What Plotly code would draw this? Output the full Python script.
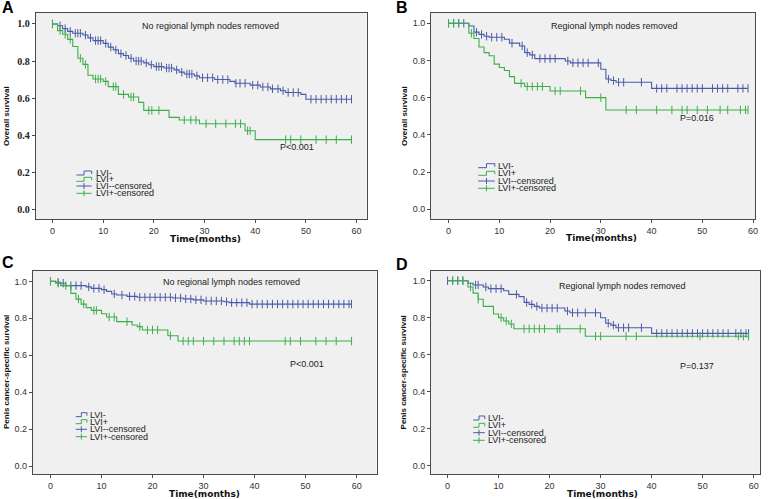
import plotly.graph_objects as go

W, H = 778, 499
BLUE = '#4A5BA8'
GREEN = '#3DAE4B'
SANS = 'Liberation Sans, Arial, sans-serif'

# ---------------- data ----------------
# Panel A: overall survival, no regional lymph nodes removed
a_neg_t = [0, 1, 2, 3, 4, 6, 7, 8, 10, 11, 12, 13, 14, 15, 16, 18, 19, 20, 22, 24, 25, 26, 28, 29, 32, 35, 36, 39, 41, 43, 45, 46, 49, 50]
a_neg_s = [1.0, 0.99, 0.975, 0.96, 0.95, 0.94, 0.925, 0.91, 0.895, 0.875, 0.86, 0.84, 0.83, 0.815, 0.80, 0.79, 0.78, 0.77, 0.762, 0.752, 0.74, 0.73, 0.72, 0.71, 0.70, 0.69, 0.68, 0.67, 0.66, 0.65, 0.64, 0.63, 0.62, 0.594]
a_neg_c = [0, 1.5, 2.5, 3.5, 4.5, 5, 5.5, 6.5, 7.5, 8.5, 9, 9.5, 10.5, 11.5, 12.5, 13.5, 14.5, 15.5, 16.5, 17, 17.5, 18.5, 19.5, 20.5, 21, 21.5, 22.5, 23, 23.5, 24.5, 25.5, 26.5, 27, 27.5, 28.5, 29.6, 30.6, 31.6, 32.6, 33.6, 34.6, 36.2, 37, 38, 39.5, 40.5, 41.5, 42.5, 43.4, 44.5, 45.5, 46.5, 47.5, 48.5, 51, 52, 53, 54, 55, 56, 57, 58, 59]
a_pos_t = [0, 1, 2, 3, 4, 5, 6, 7, 8, 10, 11, 13, 15, 17, 18, 23, 25, 29, 38, 40]
a_pos_s = [1.0, 0.964, 0.944, 0.917, 0.878, 0.815, 0.782, 0.723, 0.703, 0.69, 0.662, 0.62, 0.606, 0.577, 0.534, 0.496, 0.482, 0.462, 0.424, 0.376]
a_pos_c = [0, 1.5, 2.5, 3.5, 5.5, 6.5, 8.5, 9, 9.5, 10.5, 12, 12.5, 14, 15.5, 16, 19, 19.6, 21, 26, 27.3, 28.3, 30.3, 32.2, 34.2, 36.1, 37.1, 38.5, 39, 46, 47, 49, 52, 54, 56, 59]

# Panel B: overall survival, regional lymph nodes removed
b_neg_t = [0, 4, 5, 6, 7, 8, 11, 12, 14, 15, 16, 17, 23, 24, 30, 31, 32, 33, 40]
b_neg_s = [1.0, 0.985, 0.952, 0.94, 0.93, 0.925, 0.914, 0.893, 0.878, 0.842, 0.83, 0.81, 0.797, 0.787, 0.753, 0.70, 0.692, 0.683, 0.65]
b_neg_c = [0, 1, 2, 3, 5.5, 6.5, 7.5, 8.5, 9.5, 10.5, 12.5, 14.5, 15.5, 16.5, 18, 19, 20, 21, 23.5, 24.5, 25.5, 26.5, 27.5, 29.5, 31.5, 32.5, 33.5, 34.5, 38, 41, 42, 43, 45, 46, 47, 48, 49, 50, 52, 53, 54, 55, 57, 58, 59]
b_pos_t = [0, 4, 5, 6, 7, 8, 9, 10, 11, 12, 13, 15, 20, 27, 31]
b_pos_s = [1.0, 0.946, 0.918, 0.872, 0.842, 0.825, 0.78, 0.762, 0.746, 0.713, 0.677, 0.66, 0.636, 0.60, 0.534]
b_pos_c = [0, 1, 2, 4.5, 14.3, 15.5, 16.5, 17.5, 18.5, 21, 22, 26, 30, 35, 37, 41, 44, 46, 47, 49, 51, 53.5, 55, 57.5, 58.5, 59]

# Panel C: penis cancer-specific survival, no regional lymph nodes removed
c_neg_t = [0, 1, 2, 3, 7, 8, 10, 11, 12, 13, 15, 17, 24, 26, 28, 30, 34, 35, 39]
c_neg_s = [1.0, 0.995, 0.99, 0.977, 0.97, 0.962, 0.955, 0.946, 0.932, 0.926, 0.919, 0.914, 0.91, 0.905, 0.90, 0.894, 0.89, 0.885, 0.877]
c_neg_c = [0, 1.5, 2.5, 4, 5, 6, 7.5, 8.5, 9.5, 10.5, 12.5, 14, 15.5, 16.5, 17.5, 18.5, 19.5, 20.5, 21.5, 22.5, 23.5, 24.5, 25.5, 26.5, 27.5, 28.5, 29.5, 30.5, 31.5, 32.5, 33.5, 34.5, 35.5, 36.5, 37.5, 38.5, 39.5, 40.5, 41.5, 42.5, 43.5, 44.5, 45.5, 46.5, 47.5, 48.5, 49.5, 50.5, 51.5, 52.5, 53.5, 54.5, 55.5, 56.5, 57.5, 58.5, 59]
c_pos_t = [0, 1, 2, 4, 5, 6, 7, 8, 10, 11, 13, 16, 17, 18, 23, 25]
c_pos_s = [1.0, 0.99, 0.977, 0.935, 0.904, 0.877, 0.858, 0.843, 0.825, 0.807, 0.782, 0.764, 0.755, 0.737, 0.706, 0.677]
c_pos_c = [0, 1.5, 3, 5.5, 6.5, 8.5, 9, 11.5, 12.5, 15, 17.5, 19, 20, 21, 23.5, 26, 27, 28, 30, 32, 34, 36, 37, 38, 39, 46, 47, 49, 52, 54, 56, 59]

# Panel D: penis cancer-specific survival, regional lymph nodes removed
d_neg_t = [0, 4, 5, 7, 8, 11, 12, 14, 15, 16, 17, 18, 23, 24, 30, 31, 32, 33, 40]
d_neg_s = [1.0, 0.986, 0.977, 0.966, 0.957, 0.946, 0.926, 0.914, 0.883, 0.872, 0.861, 0.852, 0.836, 0.827, 0.80, 0.77, 0.76, 0.746, 0.715]
d_neg_c = [0, 1, 2, 3, 5.5, 6, 7.5, 8.5, 9.5, 10.5, 13.5, 15.5, 16.5, 17.5, 18.5, 19.5, 20.5, 21.5, 23.5, 24.5, 25.5, 27, 29, 31.5, 32.5, 33.5, 34.5, 35.5, 38, 41, 42, 43, 44, 45, 46, 47, 48, 49, 50, 51, 52, 53, 54, 55, 56.5, 57.5, 58.5, 59]
d_pos_t = [0, 4, 5, 6, 7, 9, 10, 11, 12, 13, 27]
d_pos_s = [1.0, 0.966, 0.933, 0.90, 0.861, 0.82, 0.80, 0.782, 0.766, 0.74, 0.70]
d_pos_c = [1, 2, 3, 4.5, 6, 10.5, 11.5, 12.5, 15, 16, 17, 18, 19, 21.5, 22, 26, 29, 30, 35, 37, 49.5, 57, 58, 59]

subtitles = ['No regional lymph nodes removed', 'Regional lymph nodes removed',
             'No regional lymph nodes removed', 'Regional lymph nodes removed']
pvalues = ['P<0.001', 'P=0.016', 'P<0.001', 'P=0.137']
ytitles = ['Overall survival', 'Overall survival',
           'Penis cancer-specific survival', 'Penis cancer-specific survival']
letters = ['A', 'B', 'C', 'D']
legend_labels = ['LVI-', 'LVI+', 'LVI--censored', 'LVI+-censored']
y_ticks = [0.0, 0.2, 0.4, 0.6, 0.8, 1.0]
x_ticks = [0, 10, 20, 30, 40, 50, 60]

# ---------------- layout geometry (pixels) ----------------
panels = [
    dict(data=(a_neg_t, a_neg_s, a_neg_c, a_pos_t, a_pos_s, a_pos_c),
         frame=(36, 368, 13, 219), xr=[-3.28, 61.97], yr=[-0.052, 1.059],
         sub=(31.1, 0.99), p=(48.2, 0.336), ytitle=(6, 116), xtitle=(206, 238.7),
         letter=(0.5, -3.5), leg=(76.7, 92.0, 94.3, [173, 179.3, 186, 193.3])),
    dict(data=(b_neg_t, b_neg_s, b_neg_c, b_pos_t, b_pos_s, b_pos_c),
         frame=(432.7, 758.3, 13, 219), xr=[-3.45, 60.45], yr=[-0.052, 1.055],
         sub=(32.7, 0.985), p=(48.9, 0.489), ytitle=(405.5, 116), xtitle=(604, 238.3),
         letter=(396, -2.5), leg=(480, 496.7, 497.7, [165.7, 173.3, 181, 188.3])),
    dict(data=(c_neg_t, c_neg_s, c_neg_c, c_pos_t, c_pos_s, c_pos_c),
         frame=(33, 378, 271, 474), xr=[-3.45, 63.9], yr=[-0.042, 1.056],
         sub=(35.4, 0.995), p=(50.2, 0.553), ytitle=(6, 372), xtitle=(205, 494),
         letter=(0.5, 251.5), leg=(76, 87.3, 88.3, [414.7, 421.7, 429.3, 436.7])),
    dict(data=(d_neg_t, d_neg_s, d_neg_c, d_pos_t, d_pos_s, d_pos_c),
         frame=(432.7, 762.7, 270.7, 474), xr=[-3.24, 61.2], yr=[-0.045, 1.054],
         sub=(34.3, 0.97), p=(48.9, 0.537), ytitle=(405, 372), xtitle=(604.5, 494),
         letter=(395.5, 253.5), leg=(475, 486.7, 487.7, [418, 425.3, 432.7, 440.3])),
]


def px(x):
    return x / W


def py(y):
    return 1 - y / H


def surv_at(times, surv, t):
    val = surv[0]
    for ti, si in zip(times, surv):
        if ti <= t:
            val = si
    return val


fig = go.Figure()
annotations = []
shapes = []

for i, P in enumerate(panels):
    n = '' if i == 0 else str(i + 1)
    xa, ya = 'x' + n, 'y' + n
    neg_t, neg_s, neg_c, pos_t, pos_s, pos_c = P['data']
    for times, surv, cens, col in ((neg_t, neg_s, neg_c, BLUE), (pos_t, pos_s, pos_c, GREEN)):
        end = max(cens[-1], times[-1])
        fig.add_trace(go.Scatter(
            x=list(times) + [end], y=list(surv) + [surv[-1]], mode='lines',
            line=dict(color=col, width=1.1, shape='hv'), xaxis=xa, yaxis=ya,
            showlegend=False, hoverinfo='skip'))
        fig.add_trace(go.Scatter(
            x=cens, y=[surv_at(times, surv, t) for t in cens], mode='markers',
            marker=dict(symbol='line-ns', size=6, color=col, line=dict(width=1, color=col)),
            xaxis=xa, yaxis=ya, showlegend=False, hoverinfo='skip'))

    x0, x1, y0, y1 = P['frame']
    common = dict(showline=True, linecolor='#4a4a4a', linewidth=1, mirror=True,
                  ticks='outside', ticklen=3, tickcolor='#4a4a4a', showgrid=False,
                  zeroline=False)
    fig.layout['xaxis' + n] = dict(
        domain=[px(x0), px(x1)], range=P['xr'], anchor=ya, tickvals=x_ticks,
        tickfont=dict(family=SANS, size=9, color='#333'), **common)
    if i == 0:
        ytf = dict(family='Liberation Serif, Times New Roman, serif', size=10, color='#222', weight='bold')
    else:
        ytf = dict(family=SANS, size=9, color='#333')
    fig.layout['yaxis' + n] = dict(
        domain=[py(y1), py(y0)], range=P['yr'], anchor=xa, tickvals=y_ticks,
        tickformat='.1f', tickfont=ytf, **common)

    annotations.append(dict(x=P['sub'][0], y=P['sub'][1], xref=xa, yref=ya, text=subtitles[i],
                            xanchor='center', yanchor='middle', showarrow=False,
                            font=dict(family=SANS, size=9, color='#222')))
    annotations.append(dict(x=P['p'][0], y=P['p'][1], xref=xa, yref=ya, text=pvalues[i],
                            xanchor='center', yanchor='middle', showarrow=False,
                            font=dict(family=SANS, size=9, color='#222')))
    annotations.append(dict(x=px(P['ytitle'][0]), y=py(P['ytitle'][1]), xref='paper', yref='paper',
                            text='<b>' + ytitles[i] + '</b>', textangle=-90, showarrow=False,
                            xanchor='center', yanchor='middle',
                            font=dict(family=SANS, size=8, color='#111')))
    annotations.append(dict(x=px(P['xtitle'][0]), y=py(P['xtitle'][1]), xref='paper', yref='paper',
                            text='<b>Time(months)</b>', showarrow=False,
                            xanchor='center', yanchor='middle',
                            font=dict(family='DejaVu Sans, sans-serif', size=9, color='#111')))
    annotations.append(dict(x=px(P['letter'][0]), y=py(P['letter'][1]), xref='paper', yref='paper',
                            text='<b>' + letters[i] + '</b>', showarrow=False, xanchor='left',
                            yanchor='top', font=dict(family=SANS, size=16, color='#000')))

    lx0, lx1, tx, rows = P['leg']
    for k, (lab, ry) in enumerate(zip(legend_labels, rows)):
        col = BLUE if k % 2 == 0 else GREEN
        xm = (lx0 + lx1) / 2
        if k < 2:
            path = 'M {} {} L {} {} L {} {} L {} {} L {} {}'.format(
                px(lx0), py(ry + 2), px(xm), py(ry + 2), px(xm), py(ry - 2),
                px(lx1), py(ry - 2), px(lx1), py(ry + 1))
            shapes.append(dict(type='path', path=path, xref='paper', yref='paper',
                               line=dict(color=col, width=1)))
        else:
            shapes.append(dict(type='line', x0=px(lx0), x1=px(lx1), y0=py(ry), y1=py(ry),
                               xref='paper', yref='paper', line=dict(color=col, width=1)))
            shapes.append(dict(type='line', x0=px(xm), x1=px(xm), y0=py(ry - 3), y1=py(ry + 3),
                               xref='paper', yref='paper', line=dict(color=col, width=1)))
        annotations.append(dict(x=px(tx), y=py(ry), xref='paper', yref='paper', text=lab,
                                xanchor='left', yanchor='middle', showarrow=False,
                                font=dict(family=SANS, size=9, color='#222')))

fig.update_layout(
    width=W, height=H, margin=dict(l=0, r=0, t=0, b=0),
    paper_bgcolor='white', plot_bgcolor='#F0F0F0',
    annotations=annotations, shapes=shapes, showlegend=False,
)

fig.write_html('out.html', config={'displayModeBar': False},
               post_script="document.body.style.margin='0';document.body.style.overflow='hidden';")
